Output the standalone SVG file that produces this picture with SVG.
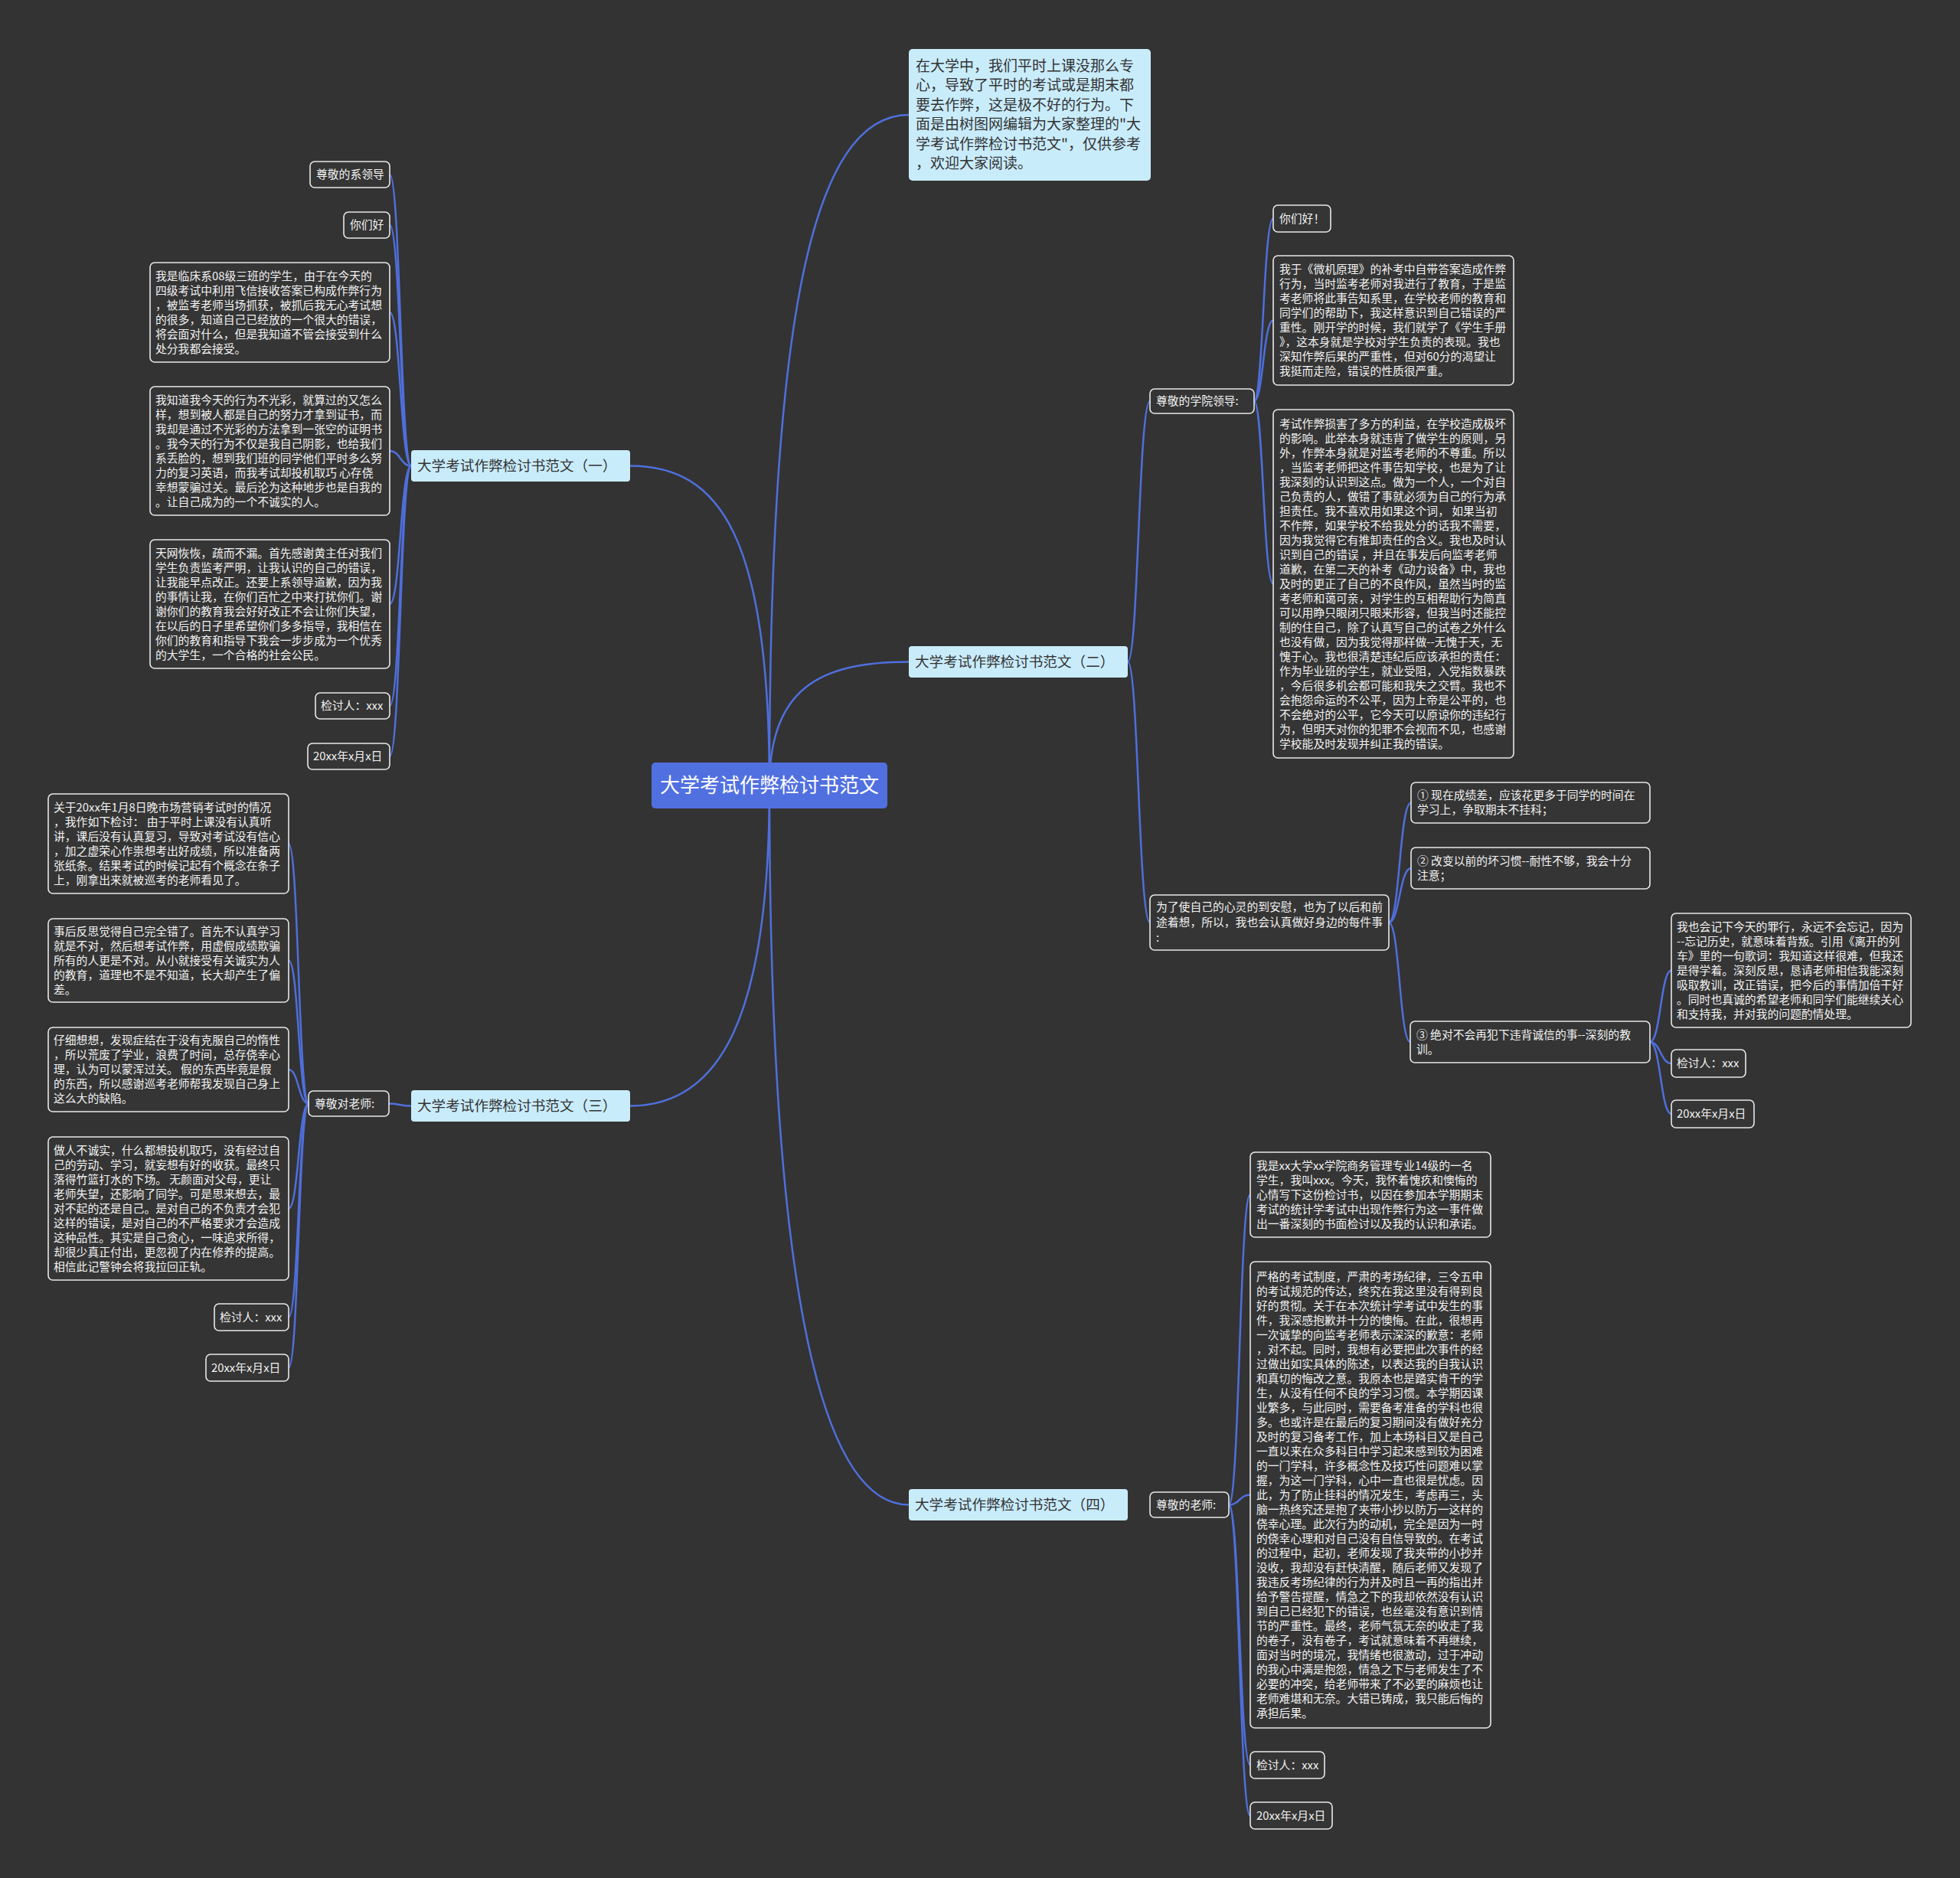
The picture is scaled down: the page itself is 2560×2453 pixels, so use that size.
<svg xmlns="http://www.w3.org/2000/svg" width="2560" height="2453" viewBox="0 0 2560 2453">
<style>
text{font-family:"Noto Sans CJK SC","Noto Sans",sans-serif;}
.root rect{fill:#5170e0;}
.root text{fill:#ffffff;font-size:26px;text-anchor:middle;}
.l1 rect{fill:#c9ecfb;}
.l1 text{fill:#333333;font-size:18.6px;}
.intro text{font-size:19px;}
.l2 rect{fill:#353535;stroke:#e8e8e8;stroke-width:1.6;}
.l2 text{fill:#f2f2f2;font-size:14.8px;}
#connectors path{fill:none;stroke:#4f6fdc;stroke-width:2.5;}
</style>
<rect x="0" y="0" width="2560" height="2453" fill="#333333"/>

<g id="connectors">
<path d="M1005,1026 C1005,420 1060,150 1187,150"/>
<path d="M1005,1026 C1005,900 1070,864.5 1187,864.5"/>
<path d="M1005,1026 C1005,700 940,608.5 823,608.5"/>
<path d="M1005,1026 C1005,1330 940,1444.5 823,1444.5"/>
<path d="M1005,1026 C1005,1620 1060,1965.5 1187,1965.5"/>
<path d="M537,608.5 C523,608.5 523,228 509,228"/>
<path d="M537,608.5 C523,608.5 523,294 509,294"/>
<path d="M537,608.5 C523,608.5 523,408 509,408"/>
<path d="M537,608.5 C523,608.5 523,589 509,589"/>
<path d="M537,608.5 C523,608.5 523,789 509,789"/>
<path d="M537,608.5 C523,608.5 523,922 509,922"/>
<path d="M537,608.5 C523,608.5 523,988 509,988"/>
<path d="M537,1444.5 C522,1444.5 522,1441.5 508,1441.5"/>
<path d="M403,1441.5 C390,1441.5 390,1102 377,1102"/>
<path d="M403,1441.5 C390,1441.5 390,1254.5 377,1254.5"/>
<path d="M403,1441.5 C390,1441.5 390,1397 377,1397"/>
<path d="M403,1441.5 C390,1441.5 390,1578.5 377,1578.5"/>
<path d="M403,1441.5 C390,1441.5 390,1720.5 377,1720.5"/>
<path d="M403,1441.5 C390,1441.5 390,1786.5 377,1786.5"/>
<path d="M1473,864.5 C1487,864.5 1487,524 1502,524"/>
<path d="M1473,864.5 C1487,864.5 1487,1205 1502,1205"/>
<path d="M1638,524 C1650,524 1650,285.5 1663,285.5"/>
<path d="M1638,524 C1650,524 1650,418.5 1663,418.5"/>
<path d="M1638,524 C1650,524 1650,762.5 1663,762.5"/>
<path d="M1814,1205 C1828,1205 1828,1048.5 1843,1048.5"/>
<path d="M1814,1205 C1828,1205 1828,1134 1843,1134"/>
<path d="M1814,1205 C1828,1205 1828,1361 1842,1361"/>
<path d="M2155,1361 C2169,1361 2169,1267.5 2183,1267.5"/>
<path d="M2155,1361 C2169,1361 2169,1389 2183,1389"/>
<path d="M2155,1361 C2169,1361 2169,1455 2183,1455"/>
<path d="M1605,1965.5 C1619,1965.5 1619,1560.5 1633,1560.5"/>
<path d="M1605,1965.5 C1619,1965.5 1619,1952.5 1633,1952.5"/>
<path d="M1605,1965.5 C1619,1965.5 1619,2305.5 1633,2305.5"/>
<path d="M1605,1965.5 C1619,1965.5 1619,2371.5 1633,2371.5"/>
</g>

<g id="root" class="root">
<rect x="851" y="996" width="308" height="60" rx="5"/>
<text x="1005" y="1035">大学考试作弊检讨书范文</text>
</g>

<g id="intro" class="l1 intro">
<rect x="1187" y="64" width="316" height="172" rx="5"/>
<text x="1196" y="92.5"><tspan x="1196" dy="0">在大学中，我们平时上课没那么专</tspan><tspan x="1196" dy="25.5">心，导致了平时的考试或是期末都</tspan><tspan x="1196" dy="25.5">要去作弊，这是极不好的行为。下</tspan><tspan x="1196" dy="25.5">面是由树图网编辑为大家整理的"大</tspan><tspan x="1196" dy="25.5">学考试作弊检讨书范文"，仅供参考</tspan><tspan x="1196" dy="25.5">，欢迎大家阅读。</tspan></text>
</g>

<g id="b1" class="l1">
<rect x="537" y="588" width="286" height="41" rx="4"/>
<text x="545" y="615">大学考试作弊检讨书范文（一）</text>
</g>
<g id="b2" class="l1">
<rect x="1187" y="844" width="286" height="41" rx="4"/>
<text x="1195" y="871">大学考试作弊检讨书范文（二）</text>
</g>
<g id="b3" class="l1">
<rect x="537" y="1424" width="286" height="41" rx="4"/>
<text x="545" y="1451">大学考试作弊检讨书范文（三）</text>
</g>
<g id="b4" class="l1">
<rect x="1187" y="1945" width="286" height="41" rx="4"/>
<text x="1195" y="1972">大学考试作弊检讨书范文（四）</text>
</g>

<!-- branch 1 children -->
<g id="b1-greet" class="l2">
<rect x="405" y="211" width="104" height="34" rx="6"/>
<text x="413" y="233">尊敬的系领导</text>
</g>
<g id="b1-hello" class="l2">
<rect x="449" y="277" width="60" height="34" rx="6"/>
<text x="457" y="299">你们好</text>
</g>
<g id="b1-p1" class="l2">
<rect x="196" y="343" width="313" height="130" rx="6"/>
<text x="203" y="365.5"><tspan x="203" dy="0">我是临床系08级三班的学生，由于在今天的</tspan><tspan x="203" dy="19">四级考试中利用飞信接收答案已构成作弊行为</tspan><tspan x="203" dy="19">，被监考老师当场抓获，被抓后我无心考试想</tspan><tspan x="203" dy="19">的很多，知道自己已经放的一个很大的错误，</tspan><tspan x="203" dy="19">将会面对什么，但是我知道不管会接受到什么</tspan><tspan x="203" dy="19">处分我都会接受。</tspan></text>
</g>
<g id="b1-p2" class="l2">
<rect x="196" y="505" width="313" height="168" rx="6"/>
<text x="203" y="527.5"><tspan x="203" dy="0">我知道我今天的行为不光彩，就算过的又怎么</tspan><tspan x="203" dy="19">样，想到被人都是自己的努力才拿到证书，而</tspan><tspan x="203" dy="19">我却是通过不光彩的方法拿到一张空的证明书</tspan><tspan x="203" dy="19">。我今天的行为不仅是我自己阴影，也给我们</tspan><tspan x="203" dy="19">系丢脸的，想到我们班的同学他们平时多么努</tspan><tspan x="203" dy="19">力的复习英语，而我考试却投机取巧 心存侥</tspan><tspan x="203" dy="19">幸想蒙骗过关。最后沦为这种地步也是自我的</tspan><tspan x="203" dy="19">。让自己成为的一个不诚实的人。</tspan></text>
</g>
<g id="b1-p3" class="l2">
<rect x="196" y="705" width="313" height="168" rx="6"/>
<text x="203" y="727.5"><tspan x="203" dy="0">天网恢恢，疏而不漏。首先感谢黄主任对我们</tspan><tspan x="203" dy="19">学生负责监考严明，让我认识的自己的错误，</tspan><tspan x="203" dy="19">让我能早点改正。还要上系领导道歉，因为我</tspan><tspan x="203" dy="19">的事情让我，在你们百忙之中来打扰你们。谢</tspan><tspan x="203" dy="19">谢你们的教育我会好好改正不会让你们失望，</tspan><tspan x="203" dy="19">在以后的日子里希望你们多多指导，我相信在</tspan><tspan x="203" dy="19">你们的教育和指导下我会一步步成为一个优秀</tspan><tspan x="203" dy="19">的大学生，一个合格的社会公民。</tspan></text>
</g>
<g id="b1-sign" class="l2">
<rect x="412" y="905" width="97" height="34" rx="6"/>
<text x="419" y="927">检讨人：xxx</text>
</g>
<g id="b1-date" class="l2">
<rect x="402" y="971" width="107" height="34" rx="6"/>
<text x="409" y="993">20xx年x月x日</text>
</g>

<!-- branch 3 children -->
<g id="b3-greet" class="l2">
<rect x="403" y="1425" width="105" height="33" rx="6"/>
<text x="411" y="1446.5">尊敬对老师:</text>
</g>
<g id="b3-p1" class="l2">
<rect x="63" y="1037" width="314" height="130" rx="6"/>
<text x="70" y="1059.5"><tspan x="70" dy="0">关于20xx年1月8日晚市场营销考试时的情况</tspan><tspan x="70" dy="19">，我作如下检讨： 由于平时上课没有认真听</tspan><tspan x="70" dy="19">讲，课后没有认真复习，导致对考试没有信心</tspan><tspan x="70" dy="19">，加之虚荣心作祟想考出好成绩，所以准备两</tspan><tspan x="70" dy="19">张纸条。结果考试的时候记起有个概念在条子</tspan><tspan x="70" dy="19">上，刚拿出来就被巡考的老师看见了。</tspan></text>
</g>
<g id="b3-p2" class="l2">
<rect x="63" y="1200" width="314" height="109" rx="6"/>
<text x="70" y="1221.5"><tspan x="70" dy="0">事后反思觉得自己完全错了。首先不认真学习</tspan><tspan x="70" dy="19">就是不对，然后想考试作弊，用虚假成绩欺骗</tspan><tspan x="70" dy="19">所有的人更是不对。从小就接受有关诚实为人</tspan><tspan x="70" dy="19">的教育，道理也不是不知道，长大却产生了偏</tspan><tspan x="70" dy="19">差。</tspan></text>
</g>
<g id="b3-p3" class="l2">
<rect x="63" y="1342" width="314" height="110" rx="6"/>
<text x="70" y="1364"><tspan x="70" dy="0">仔细想想，发现症结在于没有克服自己的惰性</tspan><tspan x="70" dy="19">，所以荒废了学业，浪费了时间，总存侥幸心</tspan><tspan x="70" dy="19">理，认为可以蒙浑过关。 假的东西毕竟是假</tspan><tspan x="70" dy="19">的东西，所以感谢巡考老师帮我发现自己身上</tspan><tspan x="70" dy="19">这么大的缺陷。</tspan></text>
</g>
<g id="b3-p4" class="l2">
<rect x="63" y="1485" width="314" height="187" rx="6"/>
<text x="70" y="1507.5"><tspan x="70" dy="0">做人不诚实，什么都想投机取巧，没有经过自</tspan><tspan x="70" dy="19">己的劳动、学习，就妄想有好的收获。最终只</tspan><tspan x="70" dy="19">落得竹篮打水的下场。 无颜面对父母，更让</tspan><tspan x="70" dy="19">老师失望，还影响了同学。可是思来想去，最</tspan><tspan x="70" dy="19">对不起的还是自己。是对自己的不负责才会犯</tspan><tspan x="70" dy="19">这样的错误，是对自己的不严格要求才会造成</tspan><tspan x="70" dy="19">这种品性。其实是自己贪心，一味追求所得，</tspan><tspan x="70" dy="19">却很少真正付出，更忽视了内在修养的提高。</tspan><tspan x="70" dy="19">相信此记警钟会将我拉回正轨。</tspan></text>
</g>
<g id="b3-sign" class="l2">
<rect x="280" y="1703" width="97" height="35" rx="6"/>
<text x="287" y="1725.5">检讨人：xxx</text>
</g>
<g id="b3-date" class="l2">
<rect x="269" y="1769" width="108" height="35" rx="6"/>
<text x="276" y="1791.5">20xx年x月x日</text>
</g>

<!-- branch 2 children -->
<g id="b2-greet" class="l2">
<rect x="1502" y="508" width="136" height="32" rx="6"/>
<text x="1510" y="529">尊敬的学院领导:</text>
</g>
<g id="b2-hello" class="l2">
<rect x="1663" y="268" width="75" height="35" rx="6"/>
<text x="1671" y="290.5">你们好！</text>
</g>
<g id="b2-p1" class="l2">
<rect x="1663" y="334" width="314" height="169" rx="6"/>
<text x="1671" y="357"><tspan x="1671" dy="0">我于《微机原理》的补考中自带答案造成作弊</tspan><tspan x="1671" dy="19">行为，当时监考老师对我进行了教育，于是监</tspan><tspan x="1671" dy="19">考老师将此事告知系里，在学校老师的教育和</tspan><tspan x="1671" dy="19">同学们的帮助下，我这样意识到自己错误的严</tspan><tspan x="1671" dy="19">重性。刚开学的时候，我们就学了《学生手册</tspan><tspan x="1671" dy="19">》，这本身就是学校对学生负责的表现。我也</tspan><tspan x="1671" dy="19">深知作弊后果的严重性，但对60分的渴望让</tspan><tspan x="1671" dy="19">我挺而走险，错误的性质很严重。</tspan></text>
</g>
<g id="b2-p2" class="l2">
<rect x="1663" y="535" width="314" height="455" rx="6"/>
<text x="1671" y="558.5"><tspan x="1671" dy="0">考试作弊损害了多方的利益，在学校造成极坏</tspan><tspan x="1671" dy="19">的影响。此举本身就违背了做学生的原则，另</tspan><tspan x="1671" dy="19">外，作弊本身就是对监考老师的不尊重。所以</tspan><tspan x="1671" dy="19">，当监考老师把这件事告知学校，也是为了让</tspan><tspan x="1671" dy="19">我深刻的认识到这点。做为一个人，一个对自</tspan><tspan x="1671" dy="19">己负责的人，做错了事就必须为自己的行为承</tspan><tspan x="1671" dy="19">担责任。我不喜欢用如果这个词， 如果当初</tspan><tspan x="1671" dy="19">不作弊，如果学校不给我处分的话我不需要，</tspan><tspan x="1671" dy="19">因为我觉得它有推卸责任的含义。我也及时认</tspan><tspan x="1671" dy="19">识到自己的错误 ，并且在事发后向监考老师</tspan><tspan x="1671" dy="19">道歉，在第二天的补考《动力设备》中，我也</tspan><tspan x="1671" dy="19">及时的更正了自己的不良作风，虽然当时的监</tspan><tspan x="1671" dy="19">考老师和蔼可亲，对学生的互相帮助行为简直</tspan><tspan x="1671" dy="19">可以用睁只眼闭只眼来形容，但我当时还能控</tspan><tspan x="1671" dy="19">制的住自己，除了认真写自己的试卷之外什么</tspan><tspan x="1671" dy="19">也没有做，因为我觉得那样做--无愧于天，无</tspan><tspan x="1671" dy="19">愧于心。我也很清楚违纪后应该承担的责任：</tspan><tspan x="1671" dy="19">作为毕业班的学生，就业受阻，入党指数暴跌</tspan><tspan x="1671" dy="19">，今后很多机会都可能和我失之交臂。我也不</tspan><tspan x="1671" dy="19">会抱怨命运的不公平，因为上帝是公平的，也</tspan><tspan x="1671" dy="19">不会绝对的公平，它今天可以原谅你的违纪行</tspan><tspan x="1671" dy="19">为，但明天对你的犯罪不会视而不见，也感谢</tspan><tspan x="1671" dy="19">学校能及时发现并纠正我的错误。</tspan></text>
</g>
<g id="b2-resolve" class="l2">
<rect x="1502" y="1169" width="312" height="72" rx="6"/>
<text x="1510" y="1190"><tspan x="1510" dy="0">为了使自己的心灵的到安慰，也为了以后和前</tspan><tspan x="1510" dy="20">途着想，所以，我也会认真做好身边的每件事</tspan><tspan x="1510" dy="20">:</tspan></text>
</g>
<g id="b2-item1" class="l2">
<rect x="1843" y="1022" width="312" height="53" rx="6"/>
<text x="1851" y="1044"><tspan x="1851" dy="0">① 现在成绩差，应该花更多于同学的时间在</tspan><tspan x="1851" dy="19">学习上，争取期末不挂科；</tspan></text>
</g>
<g id="b2-item2" class="l2">
<rect x="1843" y="1107" width="312" height="54" rx="6"/>
<text x="1851" y="1129.5"><tspan x="1851" dy="0">② 改变以前的坏习惯--耐性不够，我会十分</tspan><tspan x="1851" dy="19">注意；</tspan></text>
</g>
<g id="b2-item3" class="l2">
<rect x="1842" y="1334" width="313" height="54" rx="6"/>
<text x="1850" y="1356.5"><tspan x="1850" dy="0">③ 绝对不会再犯下违背诚信的事--深刻的教</tspan><tspan x="1850" dy="19">训。</tspan></text>
</g>
<g id="b2-p3" class="l2">
<rect x="2183" y="1193" width="313" height="149" rx="6"/>
<text x="2190" y="1215.5"><tspan x="2190" dy="0">我也会记下今天的罪行，永远不会忘记，因为</tspan><tspan x="2190" dy="19">--忘记历史，就意味着背叛。引用《离开的列</tspan><tspan x="2190" dy="19">车》里的一句歌词：我知道这样很难，但我还</tspan><tspan x="2190" dy="19">是得学着。深刻反思，恳请老师相信我能深刻</tspan><tspan x="2190" dy="19">吸取教训，改正错误，把今后的事情加倍干好</tspan><tspan x="2190" dy="19">。同时也真诚的希望老师和同学们能继续关心</tspan><tspan x="2190" dy="19">和支持我，并对我的问题酌情处理。</tspan></text>
</g>
<g id="b2-sign" class="l2">
<rect x="2183" y="1371" width="97" height="36" rx="6"/>
<text x="2190" y="1394">检讨人：xxx</text>
</g>
<g id="b2-date" class="l2">
<rect x="2183" y="1437" width="108" height="36" rx="6"/>
<text x="2190" y="1460">20xx年x月x日</text>
</g>

<!-- branch 4 children -->
<g id="b4-greet" class="l2">
<rect x="1502" y="1949" width="103" height="33" rx="6"/>
<text x="1510" y="1970.5">尊敬的老师:</text>
</g>
<g id="b4-p1" class="l2">
<rect x="1633" y="1505" width="314" height="111" rx="6"/>
<text x="1641" y="1527.5"><tspan x="1641" dy="0">我是xx大学xx学院商务管理专业14级的一名</tspan><tspan x="1641" dy="19">学生，我叫xxx。今天，我怀着愧疚和懊悔的</tspan><tspan x="1641" dy="19">心情写下这份检讨书，以因在参加本学期期末</tspan><tspan x="1641" dy="19">考试的统计学考试中出现作弊行为这一事件做</tspan><tspan x="1641" dy="19">出一番深刻的书面检讨以及我的认识和承诺。</tspan></text>
</g>
<g id="b4-p2" class="l2">
<rect x="1633" y="1648" width="314" height="609" rx="6"/>
<text x="1641" y="1672.5"><tspan x="1641" dy="0">严格的考试制度，严肃的考场纪律，三令五申</tspan><tspan x="1641" dy="19">的考试规范的传达，终究在我这里没有得到良</tspan><tspan x="1641" dy="19">好的贯彻。关于在本次统计学考试中发生的事</tspan><tspan x="1641" dy="19">件，我深感抱歉并十分的懊悔。在此，很想再</tspan><tspan x="1641" dy="19">一次诚挚的向监考老师表示深深的歉意：老师</tspan><tspan x="1641" dy="19">，对不起。同时，我想有必要把此次事件的经</tspan><tspan x="1641" dy="19">过做出如实具体的陈述，以表达我的自我认识</tspan><tspan x="1641" dy="19">和真切的悔改之意。我原本也是踏实肯干的学</tspan><tspan x="1641" dy="19">生，从没有任何不良的学习习惯。本学期因课</tspan><tspan x="1641" dy="19">业繁多，与此同时，需要备考准备的学科也很</tspan><tspan x="1641" dy="19">多。也或许是在最后的复习期间没有做好充分</tspan><tspan x="1641" dy="19">及时的复习备考工作，加上本场科目又是自己</tspan><tspan x="1641" dy="19">一直以来在众多科目中学习起来感到较为困难</tspan><tspan x="1641" dy="19">的一门学科，许多概念性及技巧性问题难以掌</tspan><tspan x="1641" dy="19">握，为这一门学科，心中一直也很是忧虑。因</tspan><tspan x="1641" dy="19">此，为了防止挂科的情况发生，考虑再三，头</tspan><tspan x="1641" dy="19">脑一热终究还是抱了夹带小抄以防万一这样的</tspan><tspan x="1641" dy="19">侥幸心理。此次行为的动机，完全是因为一时</tspan><tspan x="1641" dy="19">的侥幸心理和对自己没有自信导致的。在考试</tspan><tspan x="1641" dy="19">的过程中，起初，老师发现了我夹带的小抄并</tspan><tspan x="1641" dy="19">没收，我却没有赶快清醒，随后老师又发现了</tspan><tspan x="1641" dy="19">我违反考场纪律的行为并及时且一再的指出并</tspan><tspan x="1641" dy="19">给予警告提醒，情急之下的我却依然没有认识</tspan><tspan x="1641" dy="19">到自己已经犯下的错误，也丝毫没有意识到情</tspan><tspan x="1641" dy="19">节的严重性。最终，老师气氛无奈的收走了我</tspan><tspan x="1641" dy="19">的卷子，没有卷子，考试就意味着不再继续，</tspan><tspan x="1641" dy="19">面对当时的境况，我情绪也很激动，过于冲动</tspan><tspan x="1641" dy="19">的我心中满是抱怨，情急之下与老师发生了不</tspan><tspan x="1641" dy="19">必要的冲突，给老师带来了不必要的麻烦也让</tspan><tspan x="1641" dy="19">老师难堪和无奈。大错已铸成，我只能后悔的</tspan><tspan x="1641" dy="19">承担后果。</tspan></text>
</g>
<g id="b4-sign" class="l2">
<rect x="1633" y="2288" width="97" height="35" rx="6"/>
<text x="1641" y="2310.5">检讨人：xxx</text>
</g>
<g id="b4-date" class="l2">
<rect x="1633" y="2354" width="107" height="35" rx="6"/>
<text x="1641" y="2376.5">20xx年x月x日</text>
</g>
</svg>
